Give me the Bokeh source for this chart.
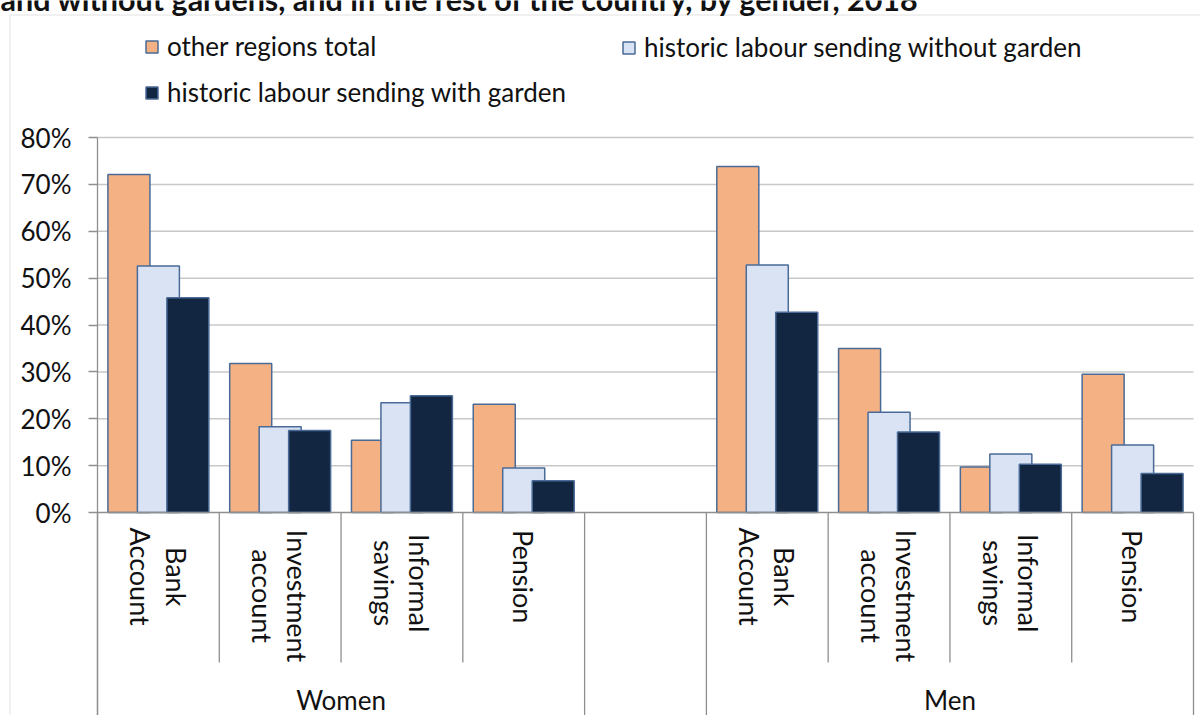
import math
from bokeh.plotting import figure
from bokeh.models import (Range1d, FixedTicker, NumeralTickFormatter, Legend,
                          LegendItem, Label, BoxAnnotation, ColumnDataSource)
from bokeh.core.properties import value
from bokeh.embed import file_html
from bokeh.resources import INLINE

# ---------------- data ----------------
title_text = "and without gardens, and in the rest of the country, by gender, 2018"
groups = ["Women", "Men"]
subcategories = ["Bank\nAccount", "Investment\naccount", "Informal\nsavings", "Pension"]
series_names = ["other regions total",
                "historic labour sending without garden",
                "historic labour sending with garden"]
other_regions_total = [0.721, 0.318, 0.154, 0.231, 0.738, 0.350, 0.097, 0.295]
without_garden = [0.526, 0.183, 0.234, 0.095, 0.528, 0.214, 0.125, 0.144]
with_garden = [0.458, 0.175, 0.249, 0.068, 0.427, 0.172, 0.103, 0.083]
y_ticks = [0.0, 0.1, 0.2, 0.3, 0.4, 0.5, 0.6, 0.7, 0.8]

# ---------------- styling / layout ----------------
FONT = "Lato"
FS = "26px"
FS_CAT = "27px"
FS_TITLE = "30.5px"
CHAR_W = 12.9            # approx. advance per character of FS_CAT text (px)
TXT = "#111111"
AXIS = "#8f8f8f"
GRID = "#c8c8c8"
OUTLINE = "#4a6b98"
COLORS = ["#F4B183", "#DAE3F3", "#122641"]
W, H = 1200, 715
PLOT_L, PLOT_R, PLOT_T, PLOT_B = 97, 1193, 137, 512   # plot area in page pixels

n_sub = len(subcategories)
slot = n_sub + 1
n_slots = len(groups) * slot - 1

PX = y_ticks[-1] / (PLOT_B - PLOT_T)        # y data units per pixel
XPX = n_slots / (PLOT_R - PLOT_L)           # x data units per pixel

xs, labels = [], []
for g in range(len(groups)):
    for s in range(n_sub):
        xs.append(g * slot + s + 0.5)
        labels.append(subcategories[s])

y_start = -(H - PLOT_B) * PX
p = figure(width=W, height=H,
           x_range=Range1d(-PLOT_L * XPX, n_slots + (W - PLOT_R) * XPX),
           y_range=Range1d(y_start, y_ticks[-1] + PLOT_T * PX),
           x_axis_location=None, output_backend="svg", toolbar_location=None,
           min_border_left=0, min_border_right=0, min_border_top=0,
           min_border_bottom=0)
p.outline_line_color = None
p.background_fill_color = "white"
p.border_fill_color = "white"
p.xgrid.grid_line_color = None
p.ygrid.grid_line_color = None

# y axis (drawn at the left edge of the category area)
yax = p.yaxis[0]
yax.fixed_location = 0
yax.bounds = (y_start, y_ticks[-1])
yax.ticker = FixedTicker(ticks=y_ticks)
yax.formatter = NumeralTickFormatter(format="0%")
yax.axis_line_color = AXIS
yax.axis_line_width = 1.3
yax.major_tick_line_color = AXIS
yax.major_tick_line_width = 1.3
yax.major_tick_out = 9
yax.major_tick_in = 0
yax.minor_tick_line_color = None
yax.major_label_text_font = FONT
yax.major_label_text_font_size = FS
yax.major_label_text_color = TXT
yax.major_label_standoff = 17

# horizontal gridlines
gy = y_ticks[1:]
p.segment(x0=[0] * len(gy), y0=gy, x1=[n_slots] * len(gy), y1=gy,
          line_color=GRID, line_width=1.5)

# bars
series = [other_regions_total, without_garden, with_garden]
offsets = [-0.242, 0.0, 0.242]
renderers = []
for vals, off, col in zip(series, offsets, COLORS):
    src = ColumnDataSource(dict(x=[x + off for x in xs], top=vals))
    r = p.vbar(x="x", top="top", bottom=0, width=0.345, source=src,
               fill_color=col, line_color=OUTLINE, line_width=1.5)
    renderers.append(r)

# horizontal category axis line
p.segment(x0=[0], y0=[0], x1=[n_slots], y1=[0], line_color=AXIS, line_width=1.5)

# category separators
inner_x, edge_x = [], []
for g in range(len(groups)):
    start = g * slot
    edge_x += [start, start + n_sub]
    inner_x += [start + k for k in range(1, n_sub)]
p.segment(x0=inner_x, y0=[0] * len(inner_x), x1=inner_x, y1=[-150 * PX] * len(inner_x),
          line_color=AXIS, line_width=1.3)
p.segment(x0=edge_x, y0=[0] * len(edge_x), x1=edge_x, y1=[y_start] * len(edge_x),
          line_color=AXIS, line_width=1.3)

# category labels (rotated, lines centred, longest line starting just below the axis)
cat_y = []
for lab in labels:
    n_max = max(len(line) for line in lab.split("\n"))
    cat_y.append(-(19 + n_max * CHAR_W / 2) * PX)
p.text(x=xs, y=cat_y, text=labels, angle=-math.pi / 2,
       anchor="center", text_align="center", text_baseline="middle",
       text_font=value(FONT), text_font_size=FS_CAT, text_color=TXT,
       text_line_height=1.07)

# group labels
gx = [g * slot + n_sub / 2 for g in range(len(groups))]
p.text(x=gx, y=[-187 * PX] * len(gx), text=groups, text_align="center",
       text_baseline="middle", text_font=value(FONT), text_font_size=FS, text_color=TXT)

# legends
common = dict(glyph_width=15, glyph_height=15, label_standoff=8, spacing=14,
              padding=0, margin=0, border_line_color=None, background_fill_alpha=0,
              label_height=30, label_text_font=FONT, label_text_font_size=FS,
              label_text_color=TXT)
leg1 = Legend(items=[LegendItem(label=series_names[0], renderers=[renderers[0]]),
                     LegendItem(label=series_names[2], renderers=[renderers[2]])],
              location=(144, 607), **common)
leg2 = Legend(items=[LegendItem(label=series_names[1], renderers=[renderers[1]])],
              location=(621, 652), **common)
p.add_layout(leg1)
p.add_layout(leg2)

# chart area border
p.add_layout(BoxAnnotation(left=9.5, right=W + 50, bottom=-50, top=H - 14.5,
                           left_units="screen", right_units="screen",
                           bottom_units="screen", top_units="screen",
                           fill_alpha=0, line_color="#bfbfbf", line_width=1.5))

# (cut-off) title: only the lower part of the line is inside the picture
p.add_layout(Label(x=0, y=H + 2, x_units="screen", y_units="screen", text=title_text,
                   text_font=FONT, text_font_style="bold", text_font_size=FS_TITLE,
                   text_color=TXT, text_baseline="alphabetic"))

open("out.html", "w").write(file_html(p, INLINE))
